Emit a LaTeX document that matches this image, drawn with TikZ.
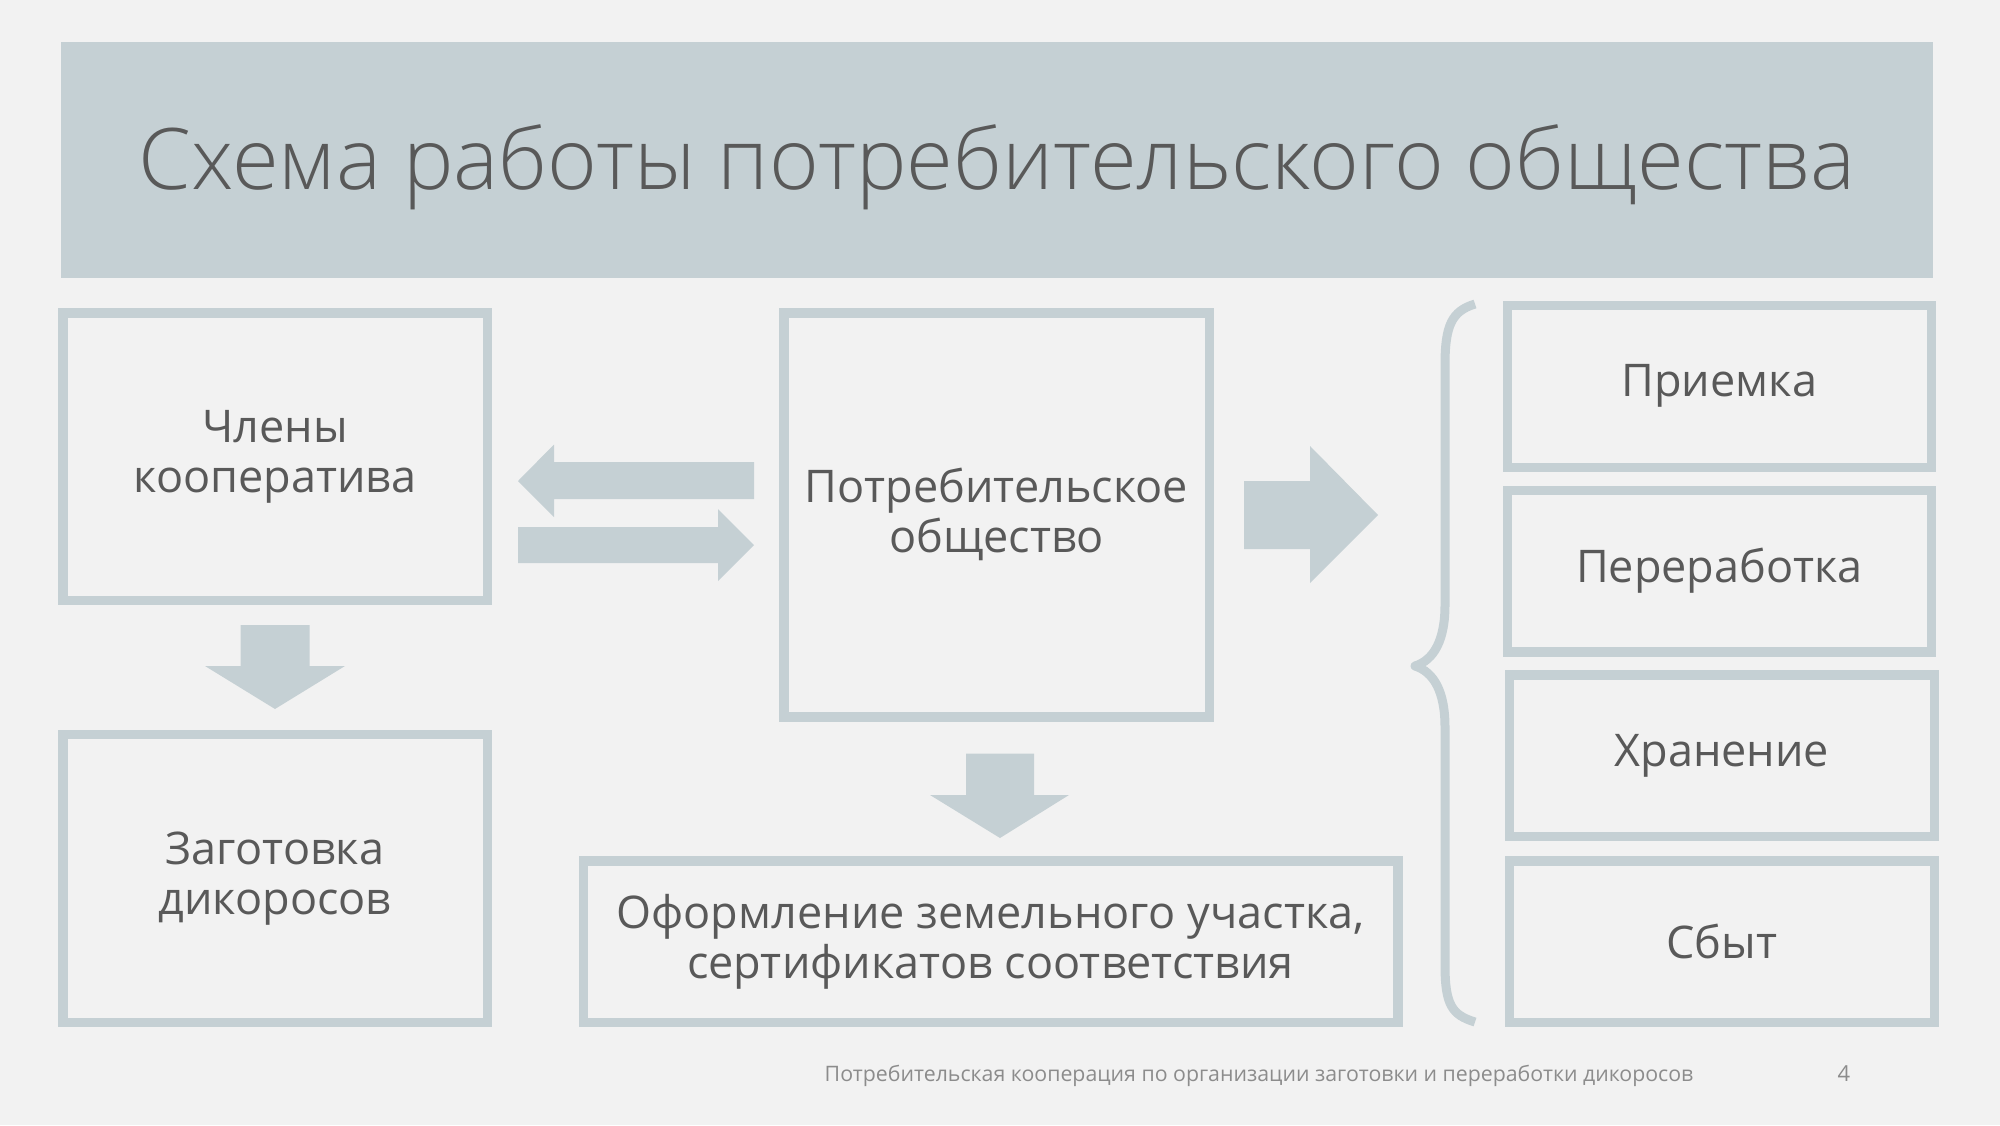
\documentclass[tikz,border=0pt]{standalone}
\usepackage{fontspec}
\setmainfont{Open Sans}
\IfFontExistsTF{Open Sans Light}{\newfontfamily\lightfont{Open Sans Light}}{\newfontfamily\lightfont{Open Sans}[FakeStretch=0.955]}
\definecolor{bg}{HTML}{F2F2F2}
\definecolor{band}{HTML}{C5D0D4}
\definecolor{txt}{HTML}{595959}
\definecolor{foot}{HTML}{8C8C8C}
\tikzset{
  box/.style={draw=band, line width=9.5pt, rectangle, inner sep=0pt, fill=none,
    align=center, text=txt, font=\fontsize{45}{50}\selectfont},
  blk/.style={fill=band, draw=none},
}
\begin{document}
\begin{tikzpicture}[x=1pt, y=-1pt]
\fill[bg] (0,0) rectangle (2000,1125);
\useasboundingbox (0,0) rectangle (2000,1125);
% title band
\fill[band] (61,42) rectangle (1933,278);
\node[anchor=base, text=txt, font=\lightfont\fontsize{85}{90}\selectfont, inner sep=0pt] (title) at (997,189) {Схема работы потребительского общества};
% boxes
\node[box, minimum width=424.5pt, minimum height=287.5pt] (members) at (275,456.5) {Члены\\кооператива};
\node[box, minimum width=424.5pt, minimum height=288pt] (zag) at (275,878.25) {Заготовка\\дикоросов};
\node[box, minimum width=425.5pt, minimum height=404pt] (po) at (996.5,514.75) {Потребительское\\общество};
\node[box, minimum width=814.5pt, minimum height=161.5pt] (oform) at (990.5,941.5) {Оформление земельного участка,\\сертификатов соответствия};
\node[box, minimum width=424pt, minimum height=162pt] (priem) at (1719.25,386.25) {Приемка};
\node[box, minimum width=424pt, minimum height=161.5pt] (perer) at (1719.25,571) {Переработка};
\node[box, minimum width=425pt, minimum height=161.5pt] (hran) at (1721.75,755.5) {Хранение};
\node[box, minimum width=425pt, minimum height=161.5pt] (sbyt) at (1721.75,941.5) {Сбыт};
% block arrows
\fill[blk] (518,481) -- (554,444.5) -- (554,462) -- (754,462) -- (754,499) -- (554,499) -- (554,517) -- cycle;
\fill[blk] (754,545) -- (718,509) -- (718,527) -- (518,527) -- (518,563) -- (718,563) -- (718,581) -- cycle;
\fill[blk] (1378,515) -- (1310,446) -- (1310,481) -- (1244,481) -- (1244,549) -- (1310,549) -- (1310,583) -- cycle;
\fill[blk] (275,709) -- (205,666) -- (240.5,666) -- (240.5,625) -- (309.5,625) -- (309.5,666) -- (345,666) -- cycle;
\fill[blk] (1000,838) -- (930,795) -- (966,795) -- (966,753.5) -- (1034,753.5) -- (1034,795) -- (1069,795) -- cycle;
% brace
\draw[band, line width=9pt, line join=round] (1475,304) .. controls (1452,311) and (1445,325) .. (1445,365) -- (1445,605)
  .. controls (1445,640) and (1434,660) .. (1415,666)
  .. controls (1434,672) and (1445,692) .. (1445,727) -- (1445,965)
  .. controls (1445,1005) and (1452,1015) .. (1475,1022);
% footer
\node[anchor=base, text=foot, font=\fontsize{21.3}{24}\selectfont, inner sep=0pt] (footer) at (1259,1081) {Потребительская кооперация по организации заготовки и переработки дикоросов};
\node[anchor=base, text=foot, font=\fontsize{22}{24}\selectfont, inner sep=0pt] (pnum) at (1844,1081) {4};
\end{tikzpicture}
\end{document}
